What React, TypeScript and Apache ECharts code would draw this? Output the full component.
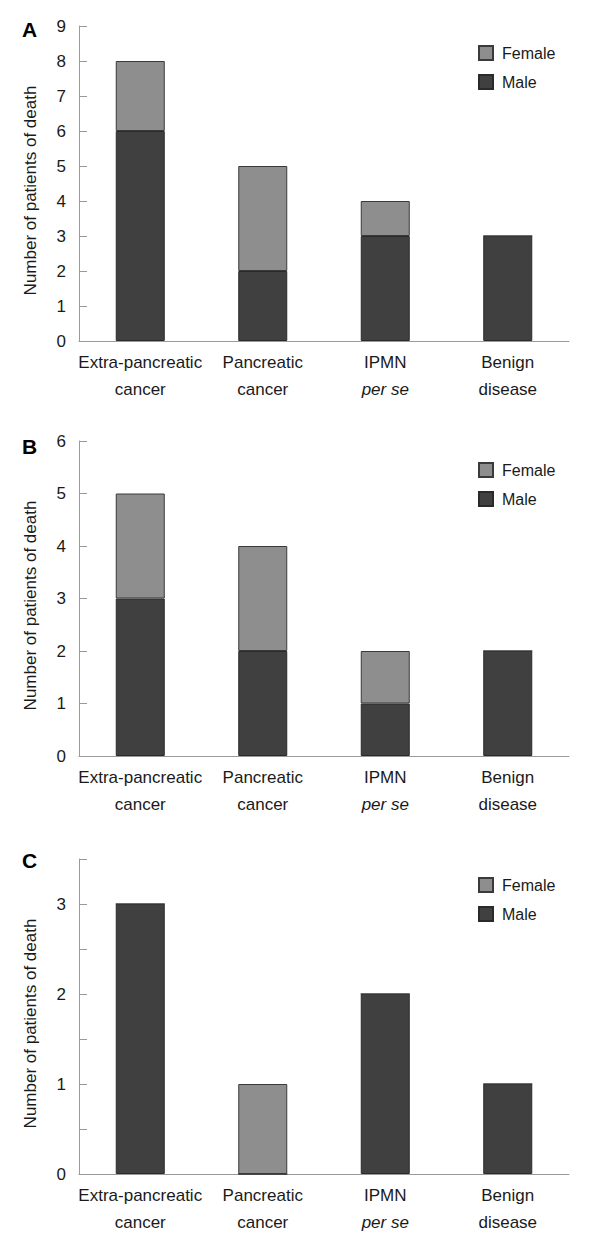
import React, { useEffect, useRef } from "react";
import * as echarts from "echarts";

const categories = ["Extra-pancreatic\ncancer", "Pancreatic\ncancer", "IPMN\n{i|per se}", "Benign\ndisease"];
const panelLabels = ["A", "B", "C"];
const maleA = [6, 2, 3, 3];
const femaleA = [2, 3, 1, 0];
const maleB = [3, 2, 1, 2];
const femaleB = [2, 2, 1, 0];
const maleC = [3, 0, 2, 1];
const femaleC = [0, 1, 0, 0];
const yMax = [9, 6, 3.5];
const yInterval = [1, 1, 0.5];
const yAxisName = "Number of patients of death";

const FONT = "'Liberation Sans', Arial, sans-serif";
const MALE = "#404040";
const FEMALE = "#8e8e8e";
const AXIS = "#9a9a9a";
const TEXT = "#1a1a1a";

const gridTops = [26, 441, 859];
const legendTops = [40, 457, 872];
const letterYs = [30, 447, 861];

export default function App() {
  const ref = useRef<HTMLDivElement>(null);
  useEffect(() => {
    document.body.style.margin = "0";
    if (!ref.current) return;
    const chart = echarts.init(ref.current, null, { renderer: "svg" });
    const males = [maleA, maleB, maleC];
    const females = [femaleA, femaleB, femaleC];
    const grids = gridTops.map((t) => ({ left: 79, top: t, width: 490, height: 315 }));
    const xAxes = gridTops.map((_, i) => ({
      type: "category",
      gridIndex: i,
      data: categories,
      axisLine: { lineStyle: { color: AXIS, width: 1 } },
      axisTick: { inside: true, length: 10, lineStyle: { color: AXIS } },
      axisLabel: {
        color: TEXT,
        fontFamily: FONT,
        fontSize: 17,
        lineHeight: 27,
        margin: 8,
        interval: 0,
        rich: {
          i: { fontStyle: "italic", fontFamily: FONT, fontSize: 17, lineHeight: 27, color: TEXT },
        },
      },
    }));
    const yAxes = gridTops.map((_, i) => ({
      type: "value",
      gridIndex: i,
      min: 0,
      max: yMax[i],
      interval: yInterval[i],
      name: yAxisName,
      nameLocation: "middle",
      nameGap: 40,
      nameRotate: 90,
      nameTextStyle: { color: TEXT, fontFamily: FONT, fontSize: 17, padding: [0, 14, 0, 0] },
      splitLine: { show: false },
      axisLine: { show: true, lineStyle: { color: AXIS, width: 1 } },
      axisTick: { show: true, inside: true, length: 8, lineStyle: { color: AXIS } },
      axisLabel: {
        color: TEXT,
        fontFamily: FONT,
        fontSize: 17,
        margin: 13,
        formatter: (v: number) => (Number.isInteger(v) ? String(v) : ""),
      },
    }));
    const series: any[] = [];
    gridTops.forEach((_, i) => {
      series.push({
        name: "Male",
        type: "bar",
        xAxisIndex: i,
        yAxisIndex: i,
        stack: "s" + i,
        barWidth: "40%",
        data: males[i],
        itemStyle: { color: MALE, borderColor: "#2a2a2a", borderWidth: 1 },
      });
      series.push({
        name: "Female",
        type: "bar",
        xAxisIndex: i,
        yAxisIndex: i,
        stack: "s" + i,
        barWidth: "40%",
        data: females[i],
        itemStyle: { color: FEMALE, borderColor: "#3a3a3a", borderWidth: 1 },
      });
    });
    const legends = legendTops.map((t) => ({
      data: ["Female", "Male"],
      orient: "vertical",
      left: 473,
      top: t,
      itemWidth: 14,
      itemHeight: 14,
      itemGap: 13,
      icon: "rect",
      selectedMode: false,
      textStyle: { color: TEXT, fontFamily: FONT, fontSize: 16, padding: [0, 0, 0, 4] },
    }));
    const graphics = panelLabels.map((l, i) => ({
      type: "text",
      left: 22,
      top: letterYs[i] - 11,
      style: { text: l, fill: "#000", font: `bold 21px ${FONT}` },
    }));
    chart.setOption({
      animation: false,
      backgroundColor: "#fff",
      grid: grids,
      xAxis: xAxes,
      yAxis: yAxes,
      legend: legends,
      series,
      graphic: graphics,
    });
    return () => chart.dispose();
  }, []);
  return <div ref={ref} style={{ width: 590, height: 1236 }} />;
}
